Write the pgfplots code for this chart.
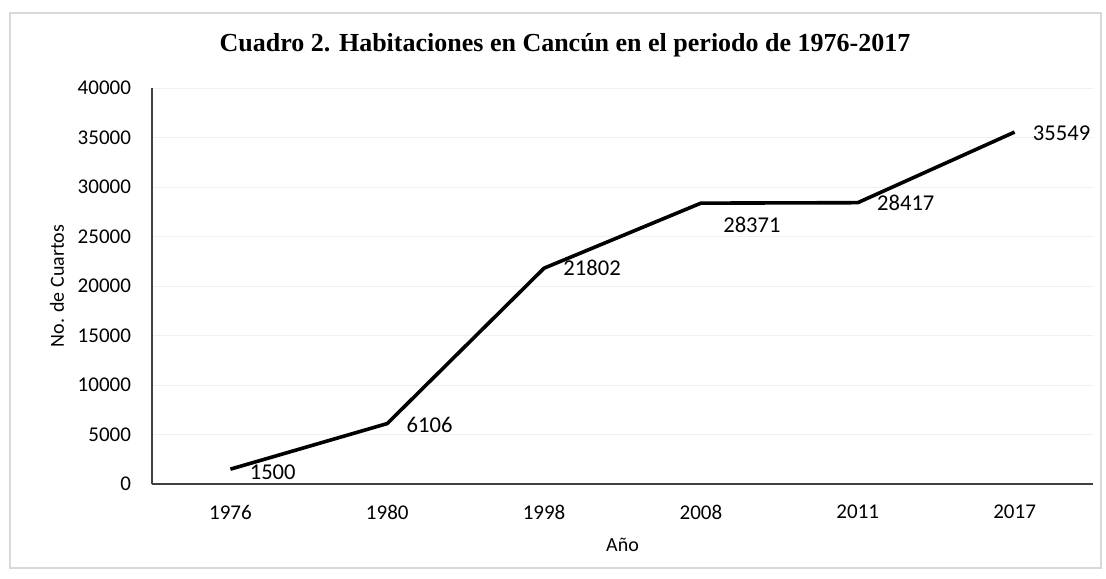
\documentclass[border=0pt]{standalone}
\usepackage{fontspec}
\setmainfont{Carlito}
\newfontfamily\titlefont{Liberation Serif}
\usepackage{pgfplots}
\pgfplotsset{compat=1.18}
\begin{document}
\begin{tikzpicture}
\fill[white] (0,0) rectangle (553pt,-289pt);
\draw[gray!30, line width=1pt] (5pt,-6.5pt) rectangle (550.5pt,-284pt);
\node[font=\titlefont\bfseries\fontsize{13}{15}\selectfont, inner sep=0pt] at (282.5pt,-22.5pt) {Cuadro 2. Habitaciones en Cancún en el periodo de 1976-2017};
\begin{axis}[
 at={(76pt,-242pt)}, anchor=south west, scale only axis, width=470.5pt, height=198pt,
 xmin=-0.5, xmax=5.5, ymin=0, ymax=40000,
 xtick={0,...,5}, xticklabels={1976,1980,1998,2008,2011,2017},
 ytick={0,5000,...,40000},
 axis x line=bottom, axis y line=left, axis line style={-, black!75, line width=0.6pt},
 major tick length=0pt,
 ymajorgrids, grid style={gray!12, line width=0.5pt},
 /pgf/number format/assume math mode=true,
 /pgf/number format/set thousands separator={},
 scaled y ticks=false,
 tick label style={font=\fontsize{10.5}{12}\selectfont, text=black},
 yticklabel style={xshift=-7pt},
 xticklabel style={yshift=-7pt},
 xlabel={Año}, ylabel={No. de Cuartos},
 label style={font=\fontsize{11.5}{13}\selectfont},
 every axis x label/.style={at={(axis description cs:0.5,-0.154)}, anchor=center},
 every axis y label/.style={at={(axis description cs:-0.101,0.5)}, anchor=center, rotate=90},
 clip=false,
]
\addplot[black, line width=1.8pt, line join=round, mark=none] coordinates {(0,1500) (1,6106) (2,21802) (3,28371) (4,28417) (5,35549)};
\addplot[draw=none, mark=none, nodes near coords, point meta=explicit symbolic,
 visualization depends on={value \thisrow{dx}\as\dx},
 visualization depends on={value \thisrow{dy}\as\dy},
 every node near coord/.append style={anchor=west, inner sep=0pt, xshift=\dx pt, yshift=\dy pt, font=\fontsize{11.3}{13}\selectfont, text=black}]
 table[x=x, y=y, meta=lab] {
 x y dx dy lab
 0 1500 9.5 -1.5 1500
 1 6106 9.5 -0.7 6106
 2 21802 9.5 0 21802
 3 28371 11 -11 28371
 4 28417 9.5 0 28417
 5 35549 9 -0.5 35549
 };
\end{axis}
\end{tikzpicture}
\end{document}
